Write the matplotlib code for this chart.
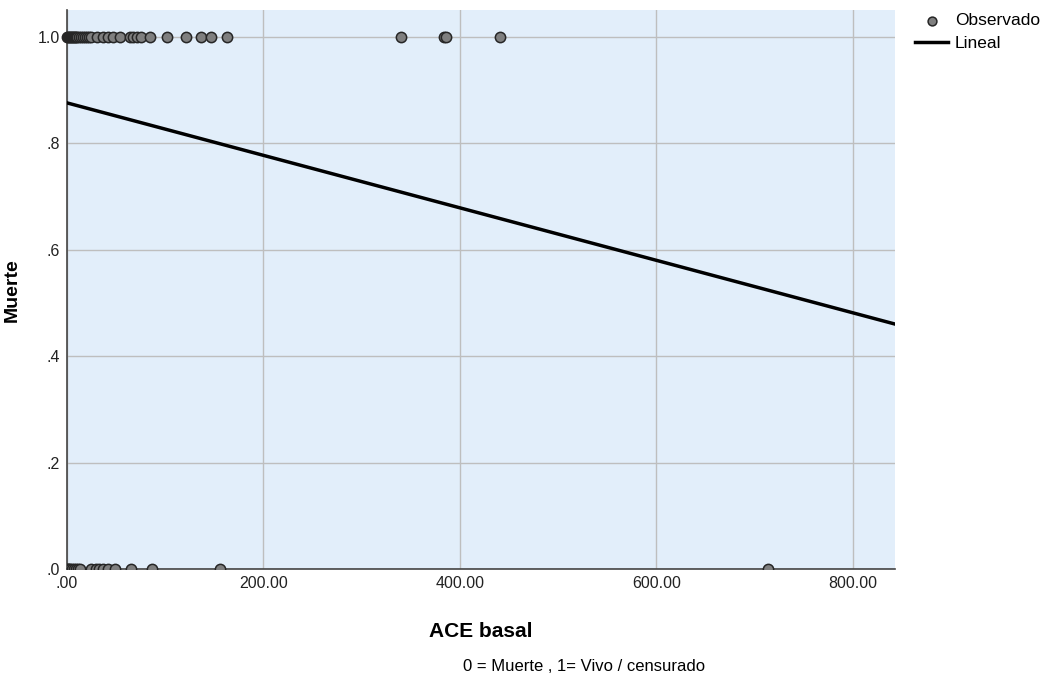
import numpy as np
import matplotlib.pyplot as plt

plt.rcParams['font.family'] = ['Liberation Sans', 'DejaVu Sans']

# Observed values (ACE basal) for each outcome group
ace_vivo = [0, 1, 2, 3, 4, 5, 6, 7, 8, 9, 10, 12, 14, 16, 18, 20, 22, 25, 30.5, 37, 42,
            47, 54, 64, 67, 71, 75, 84.5, 101.8, 121, 136, 146.6, 162.8,
            340, 383.7, 385.7, 440.7]
ace_muerte = [0, 1, 2, 3, 5, 7, 9, 11, 13, 25, 30, 33, 37, 42, 49, 65, 86.5, 155.7, 713.5]

# Linear fit line
intercept = 0.876
slope = -0.000493

xticks = [0, 200, 400, 600, 800]
xtick_labels = ['.00', '200.00', '400.00', '600.00', '800.00']
yticks = [0, 0.2, 0.4, 0.6, 0.8, 1.0]
ytick_labels = ['.0', '.2', '.4', '.6', '.8', '1.0']

fig = plt.figure(figsize=(10.46, 6.84), dpi=100)
ax = fig.add_axes([0.064, 0.168, 0.7916, 0.817])
ax.set_facecolor('#E2EEFA')

ax.set_xlim(0, 843)
ax.set_ylim(0, 1.05)

ax.set_xticks(xticks)
ax.set_xticklabels(xtick_labels)
ax.set_yticks(yticks)
ax.set_yticklabels(ytick_labels)
ax.grid(True, color='#BEBEBE', linewidth=1)
ax.set_axisbelow(True)
ax.tick_params(length=0, labelsize=11.5, colors='#222222', pad=5)

for side in ['top', 'right']:
    ax.spines[side].set_visible(False)
for side in ['left', 'bottom']:
    ax.spines[side].set_color('#444444')
    ax.spines[side].set_linewidth(1.2)

ax.scatter(ace_vivo, np.ones(len(ace_vivo)), s=55, facecolor='#7F7F7F',
           edgecolor='#262626', linewidth=1.1, zorder=3, clip_on=False, label='Observado')
ax.scatter(ace_muerte, np.zeros(len(ace_muerte)), s=55, facecolor='#7F7F7F',
           edgecolor='#262626', linewidth=1.1, zorder=3, clip_on=True)

xl = np.array([0, 843])
ax.plot(xl, intercept + slope * xl, color='black', linewidth=2.5, zorder=4, label='Lineal')

ax.set_xlabel('ACE basal', fontsize=15, fontweight='bold', labelpad=22)
ax.set_ylabel('Muerte', fontsize=14, fontweight='bold', labelpad=12)

fig.text(0.558, 0.0249, '0 = Muerte , 1= Vivo / censurado', ha='center', va='center',
         fontsize=12)

leg = fig.legend(loc='upper left', bbox_to_anchor=(0.8748, 0.981), frameon=False,
                 fontsize=12.5, handlelength=1.9, handletextpad=0.4, labelspacing=0.45,
                 borderpad=0, borderaxespad=0)
leg.legend_handles[0].set_sizes([40])

fig.savefig('out.png', dpi=100)
